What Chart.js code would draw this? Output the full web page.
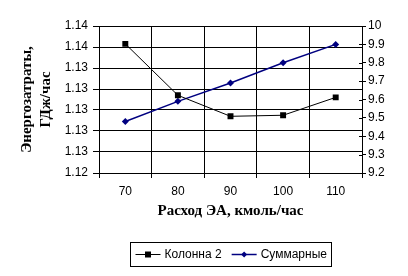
<!DOCTYPE html>
<html>
<head>
<meta charset="utf-8">
<script src="https://cdn.jsdelivr.net/npm/chart.js@4"></script>
<style>
  html, body { margin: 0; padding: 0; background: #fff; }
  #chart { display: block; }
</style>
</head>
<body>
<canvas id="chart" width="408" height="276"></canvas>
<script>
// data
const categories = ['70', '80', '90', '100', '110'];
const kolonna2 = [1.1363, 1.1314, 1.1294, 1.1295, 1.1312];
const summarnye = [9.48, 9.59, 9.69, 9.80, 9.90];

const seriesNames = ['Колонна 2', 'Суммарные'];
const xTitle = 'Расход ЭА, кмоль/час';
const yTitle = ['Энергозатраты,', 'ГДж/час'];

const tickFont = { family: '"Liberation Sans", Arial, sans-serif', size: 12 };
const titleFont = { family: '"Liberation Serif", "Times New Roman", serif', size: 15, weight: 'bold', lineHeight: 1.27 };

// right axis in the original has cross tick marks, draw the inner half
const crossTicks = {
    id: 'crossTicks',
    afterDraw(chart) {
        const ctx = chart.ctx;
        const y2 = chart.scales.y2;
        ctx.save();
        ctx.strokeStyle = '#000';
        ctx.lineWidth = 1;
        y2.ticks.forEach(t => {
            const py = Math.round(y2.getPixelForValue(t.value)) + 0.5;
            ctx.beginPath();
            ctx.moveTo(y2.left - 3, py);
            ctx.lineTo(y2.left, py);
            ctx.stroke();
        });
        ctx.restore();
    }
};

// Excel style legend: line + marker, framed box under the plot
const boxLegend = {
    id: 'boxLegend',
    afterDraw(chart) {
        const ctx = chart.ctx;
        const area = chart.chartArea;
        ctx.save();
        ctx.font = '12px "Liberation Sans", Arial, sans-serif';
        ctx.textBaseline = 'middle';
        const lineLen = 25, gap = 4, itemGap = 10, padX = 5;
        const items = chart.data.datasets.map(ds => ({ ds, w: ctx.measureText(ds.label).width }));
        let total = padX * 2;
        items.forEach((it, i) => { total += lineLen + gap + it.w + (i ? itemGap : 0); });
        const top = chart.height - 34, h = 24;
        let x = Math.round((area.left + area.right) / 2 - total / 2) + 0.5;
        ctx.strokeStyle = '#000';
        ctx.lineWidth = 1;
        ctx.strokeRect(x, top + 0.5, Math.round(total), h);
        const cy = top + 12.5;
        x += padX;
        items.forEach((it, i) => {
            if (i) x += itemGap;
            const ds = it.ds;
            ctx.strokeStyle = ds.borderColor;
            ctx.lineWidth = ds.borderWidth;
            ctx.beginPath();
            ctx.moveTo(x, cy);
            ctx.lineTo(x + lineLen, cy);
            ctx.stroke();
            ctx.fillStyle = ds.pointBackgroundColor;
            const mx = x + lineLen / 2;
            ctx.beginPath();
            if (ds.pointStyle === 'rect') {
                ctx.rect(mx - 3, cy - 3, 6, 6);
            } else {
                ctx.moveTo(mx, cy - 3); ctx.lineTo(mx + 3, cy); ctx.lineTo(mx, cy + 3); ctx.lineTo(mx - 3, cy);
                ctx.closePath();
            }
            ctx.fill();
            x += lineLen + gap;
            ctx.fillStyle = '#000';
            ctx.fillText(ds.label, x, cy);
            x += it.w;
        });
        ctx.restore();
    }
};

new Chart(document.getElementById('chart').getContext('2d'), {
    type: 'line',
    data: {
        labels: categories,
        datasets: [{
            label: seriesNames[0],
            data: kolonna2,
            yAxisID: 'y',
            borderColor: '#000000',
            backgroundColor: '#000000',
            pointBackgroundColor: '#000000',
            pointBorderColor: '#000000',
            borderWidth: 1,
            pointStyle: 'rect',
            pointRadius: 4.2,
            pointBorderWidth: 0,
            tension: 0
        }, {
            label: seriesNames[1],
            data: summarnye,
            yAxisID: 'y2',
            borderColor: '#000080',
            backgroundColor: '#000080',
            pointBackgroundColor: '#000080',
            pointBorderColor: '#000080',
            borderWidth: 1.5,
            pointStyle: 'rectRot',
            pointRadius: 3.5,
            pointBorderWidth: 0,
            tension: 0
        }]
    },
    options: {
        responsive: false,
        animation: false,
        devicePixelRatio: 1,
        layout: { padding: { top: 26, left: 0, right: 0, bottom: 55 } },
        plugins: {
            legend: { display: false },
            tooltip: { enabled: false }
        },
        scales: {
            x: {
                offset: true,
                afterFit: s => { s.height = 48; },
                grid: { color: '#000', lineWidth: 1, offset: true, tickLength: 5 },
                border: { color: '#000', width: 1 },
                ticks: { color: '#000', font: tickFont, padding: 6, maxRotation: 0 },
                title: { display: true, text: xTitle, color: '#000', font: titleFont, padding: { top: 0, bottom: 0 } }
            },
            y: {
                position: 'left',
                min: 1.124,
                max: 1.138,
                afterFit: s => { s.width = 99; },
                ticks: {
                    stepSize: 0.002,
                    color: '#000',
                    font: tickFont,
                    padding: 5,
                    callback: v => v.toFixed(2)
                },
                grid: { color: '#000', lineWidth: 1, tickLength: 6 },
                border: { color: '#000', width: 1 },
                title: { display: true, text: yTitle, color: '#000', font: titleFont, padding: { top: 18, bottom: 0 } }
            },
            y2: {
                position: 'right',
                min: 9.2,
                max: 10,
                afterFit: s => { s.width = 46; },
                ticks: {
                    stepSize: 0.1,
                    color: '#000',
                    font: tickFont,
                    padding: 2,
                    callback: v => String(Math.round(v * 10) / 10)
                },
                grid: { drawOnChartArea: false, color: '#000', tickLength: 4 },
                border: { color: '#000', width: 1 }
            }
        }
    },
    plugins: [crossTicks, boxLegend]
});
</script>
</body>
</html>
